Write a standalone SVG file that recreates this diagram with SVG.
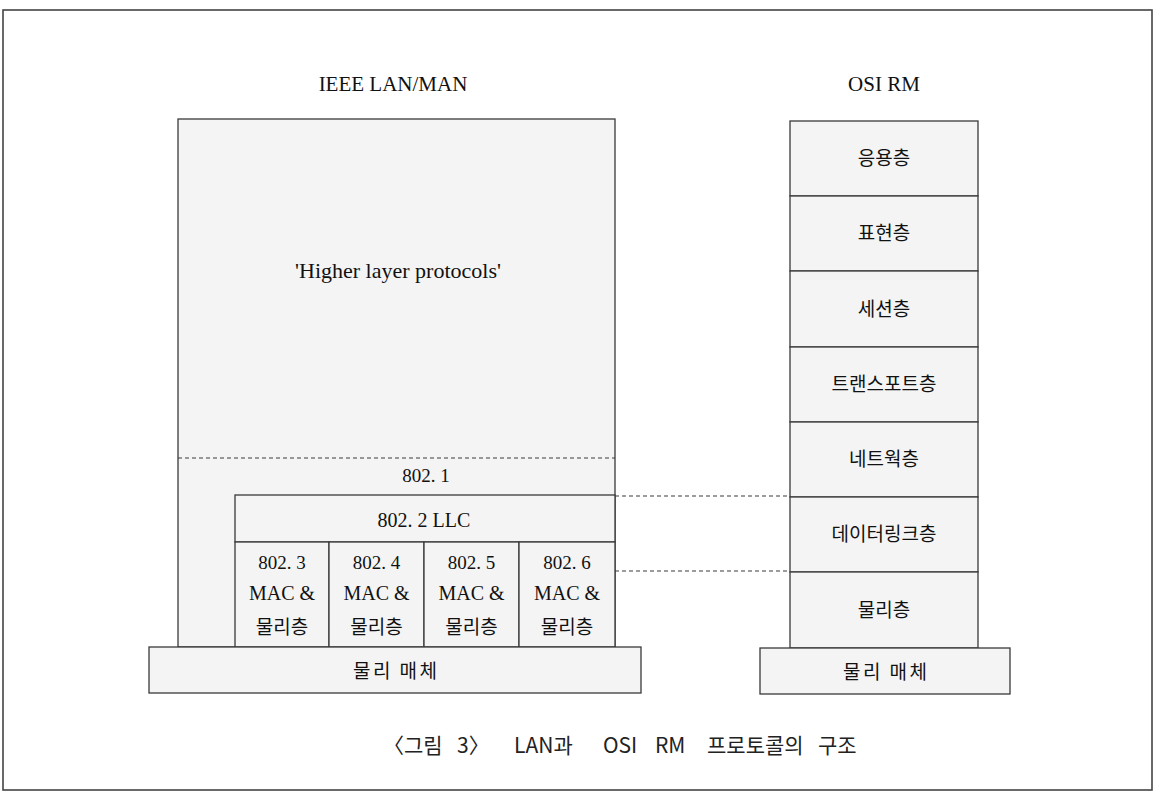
<svg xmlns="http://www.w3.org/2000/svg" width="1156" height="808" viewBox="0 0 1156 808">
<style>
.box{fill:#f4f4f4;stroke:#3a3a3a;stroke-width:1.3}
.dash{fill:none;stroke:#3a3a3a;stroke-width:1.2;stroke-dasharray:4 3}
.serif{font-family:"Liberation Serif","Noto Serif",serif;fill:#111;text-anchor:middle}
.ko{font-family:"Noto Sans CJK KR","Noto Sans",sans-serif;fill:#111;text-anchor:middle;font-size:19px}
.cap{font-family:"Noto Sans CJK KR","Liberation Sans",sans-serif;fill:#222;font-size:21px}
</style>
<rect x="0" y="0" width="1156" height="808" fill="#fff"/>
<rect x="3" y="10" width="1149" height="780" fill="none" stroke="#444" stroke-width="1.6"/>
<text class="serif" x="393" y="91" font-size="21">IEEE LAN/MAN</text>
<text class="serif" x="884" y="91" font-size="21">OSI RM</text>

<g id="lan-stack">
<rect class="box" x="178" y="119" width="437" height="528"/>
<text class="serif" x="398" y="278" font-size="22">'Higher layer protocols'</text>
</g>
<g id="n802-1">
<line class="dash" x1="178" y1="458" x2="615" y2="458"/>
<text class="serif" x="426" y="482" font-size="19">802. 1</text>
</g>
<g id="n802-2">
<rect class="box" x="235" y="495" width="380" height="47"/>
<text class="serif" x="424" y="527" font-size="20">802. 2 LLC</text>
</g>
<g id="n802-3">
<rect class="box" x="235" y="542" width="94" height="105"/>
<text class="serif" x="282" y="569" font-size="19">802. 3</text>
<text class="serif" x="282" y="600" font-size="20">MAC &amp;</text>
<text class="ko" x="282" y="634">물리층</text>
</g>
<g id="n802-4">
<rect class="box" x="329" y="542" width="95" height="105"/>
<text class="serif" x="376.5" y="569" font-size="19">802. 4</text>
<text class="serif" x="376.5" y="600" font-size="20">MAC &amp;</text>
<text class="ko" x="376.5" y="634">물리층</text>
</g>
<g id="n802-5">
<rect class="box" x="424" y="542" width="95" height="105"/>
<text class="serif" x="471.5" y="569" font-size="19">802. 5</text>
<text class="serif" x="471.5" y="600" font-size="20">MAC &amp;</text>
<text class="ko" x="471.5" y="634">물리층</text>
</g>
<g id="n802-6">
<rect class="box" x="519" y="542" width="96" height="105"/>
<text class="serif" x="567" y="569" font-size="19">802. 6</text>
<text class="serif" x="567" y="600" font-size="20">MAC &amp;</text>
<text class="ko" x="567" y="634">물리층</text>
</g>
<g id="lan-medium">
<rect class="box" x="149" y="647" width="492" height="46"/>
<text class="ko" x="395" y="678" textLength="84" lengthAdjust="spacing">물리 매체</text>
</g>

<g id="osi-application">
<rect class="box" x="790" y="121" width="188" height="75"/>
<text class="ko" x="884" y="165">응용층</text>
</g>
<g id="osi-presentation">
<rect class="box" x="790" y="196" width="188" height="75"/>
<text class="ko" x="884" y="240">표현층</text>
</g>
<g id="osi-session">
<rect class="box" x="790" y="271" width="188" height="76"/>
<text class="ko" x="884" y="316">세션층</text>
</g>
<g id="osi-transport">
<rect class="box" x="790" y="347" width="188" height="75"/>
<text class="ko" x="884" y="391">트랜스포트층</text>
</g>
<g id="osi-network">
<rect class="box" x="790" y="422" width="188" height="75"/>
<text class="ko" x="884" y="466">네트웍층</text>
</g>
<g id="osi-datalink">
<rect class="box" x="790" y="497" width="188" height="75"/>
<text class="ko" x="884" y="541">데이터링크층</text>
</g>
<g id="osi-physical">
<rect class="box" x="790" y="572" width="188" height="76"/>
<text class="ko" x="884" y="617">물리층</text>
</g>
<g id="osi-medium">
<rect class="box" x="760" y="648" width="250" height="46"/>
<text class="ko" x="885" y="679" textLength="84" lengthAdjust="spacing">물리 매체</text>
</g>

<g id="connectors">
<line class="dash" x1="615" y1="496" x2="790" y2="496"/>
<line class="dash" x1="615" y1="571" x2="790" y2="571"/>
</g>

<text class="cap" y="753"><tspan x="383">〈그림</tspan><tspan x="457">3〉</tspan><tspan x="514">LAN과</tspan><tspan x="603">OSI</tspan><tspan x="655">RM</tspan><tspan x="707">프로토콜의</tspan><tspan x="818">구조</tspan></text>
</svg>
